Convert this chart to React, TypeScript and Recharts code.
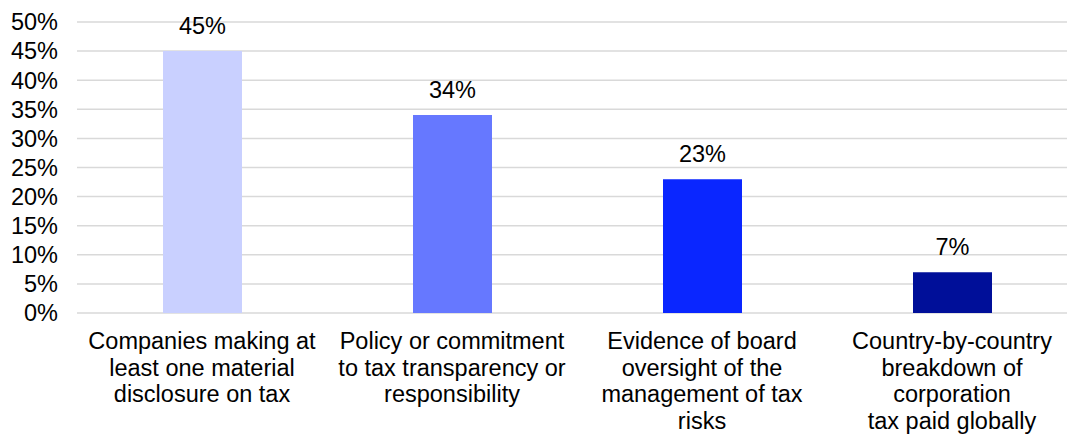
import { BarChart, Bar, Cell, CartesianGrid, XAxis, YAxis, LabelList } from "recharts";

const categories = [
  ["Companies making at", "least one material", "disclosure on tax"],
  ["Policy or commitment", "to tax transparency or", "responsibility"],
  ["Evidence of board", "oversight of the", "management of tax", "risks"],
  ["Country-by-country", "breakdown of", "corporation", "tax paid globally"],
];
const values = [45, 34, 23, 7];
const barColors = ["#c9d0ff", "#6678ff", "#0a26ff", "#000f99"];
const yTicks = [0, 5, 10, 15, 20, 25, 30, 35, 40, 45, 50];

const data = categories.map((lines, i) => ({ name: lines.join("\n"), value: values[i] }));

const font = "Arial, 'Liberation Sans', sans-serif";
const fs = 23.5;

function CategoryTick(props: any) {
  const { x, y, payload } = props;
  const lines = String(payload.value).split("\n");
  return (
    <text x={x} y={y} textAnchor="middle" fill="#000" fontSize={fs} fontFamily={font}>
      {lines.map((l, i) => (
        <tspan key={i} x={x} dy={i === 0 ? 28 : 26.5}>
          {l}
        </tspan>
      ))}
    </text>
  );
}

export default function App() {
  return (
    <div style={{ position: "fixed", left: 0, top: 0, width: 1067, height: 437, overflow: "hidden", background: "#fff" }}>
      <BarChart width={1077} height={437} data={data} margin={{ top: 22, right: 0, bottom: 0, left: 0 }}>
        <CartesianGrid stroke="#d9d9d9" strokeWidth={1.5} vertical={false} />
        <XAxis dataKey="name" axisLine={false} tickLine={false} interval={0} height={124} tick={<CategoryTick />} />
        <YAxis
          domain={[0, 50]}
          ticks={yTicks}
          interval={0}
          axisLine={false}
          tickLine={false}
          width={77}
          tickFormatter={(v) => `${v}%`}
          tick={{ fill: "#000", fontSize: fs, fontFamily: font }}
          tickMargin={13}
        />
        <Bar dataKey="value" barSize={79} isAnimationActive={false}>
          {values.map((_, i) => (
            <Cell key={i} fill={barColors[i]} />
          ))}
          <LabelList
            dataKey="value"
            position="top"
            offset={17}
            formatter={(v: any) => `${v}%`}
            style={{ fill: "#000", fontSize: fs, fontFamily: font }}
          />
        </Bar>
      </BarChart>
    </div>
  );
}
